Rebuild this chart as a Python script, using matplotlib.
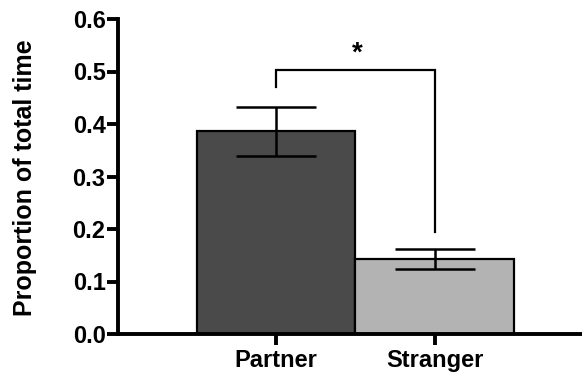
import matplotlib
matplotlib.use("Agg")
import matplotlib.pyplot as plt

categories = ["Partner", "Stranger"]
means = [0.386, 0.143]
sems = [0.047, 0.019]
colors = ["#4a4a4a", "#b3b3b3"]
yticks = [0.0, 0.1, 0.2, 0.3, 0.4, 0.5, 0.6]
ytick_labels = ["0.0", "0.1", "0.2", "0.3", "0.4", "0.5", "0.6"]
bracket_top = 0.503
bracket_left_bottom = 0.471
bracket_right_bottom = 0.195

plt.rcParams['font.family'] = ['Liberation Sans', 'DejaVu Sans']
plt.rcParams['font.weight'] = 'bold'

fig = plt.figure(figsize=(5.82, 3.79), dpi=100)
ax = fig.add_axes([118/582, 1-334/379, 1-118/582, (334-19)/379])

x = list(range(len(categories)))
ax.bar(x, means, width=1.0, color=colors, edgecolor='black', linewidth=1.6, zorder=2)
ax.errorbar(x, means, yerr=sems, fmt='none', ecolor='black', elinewidth=1.8,
            capsize=29, capthick=1.8, zorder=3)

ax.plot([0, 0, 1, 1], [bracket_left_bottom, bracket_top, bracket_top, bracket_right_bottom],
        color='black', linewidth=1.6, solid_joinstyle='miter', zorder=3)
ax.text(0.514, 0.534, "*", ha='center', va='center', fontsize=20, fontweight='bold')

ax.set_xlim(-0.994, 1.925)
ax.set_ylim(0, 0.6)
ax.set_yticks(yticks)
ax.set_yticklabels(ytick_labels)
ax.set_xticks(x)
ax.set_xticklabels(categories)
ax.set_ylabel("Proportion of total time", fontsize=18, fontweight='bold')
ax.yaxis.set_label_coords(-0.175, 0.497)

for s in ['top', 'right']:
    ax.spines[s].set_visible(False)
for s in ['left', 'bottom']:
    ax.spines[s].set_linewidth(2.8)
ax.tick_params(axis='both', width=2.8, length=8, labelsize=17, pad=1)
ax.tick_params(axis='x', labelsize=17, pad=3)
for lab in ax.get_xticklabels() + ax.get_yticklabels():
    lab.set_fontweight('bold')

fig.savefig("out.png", dpi=100)
